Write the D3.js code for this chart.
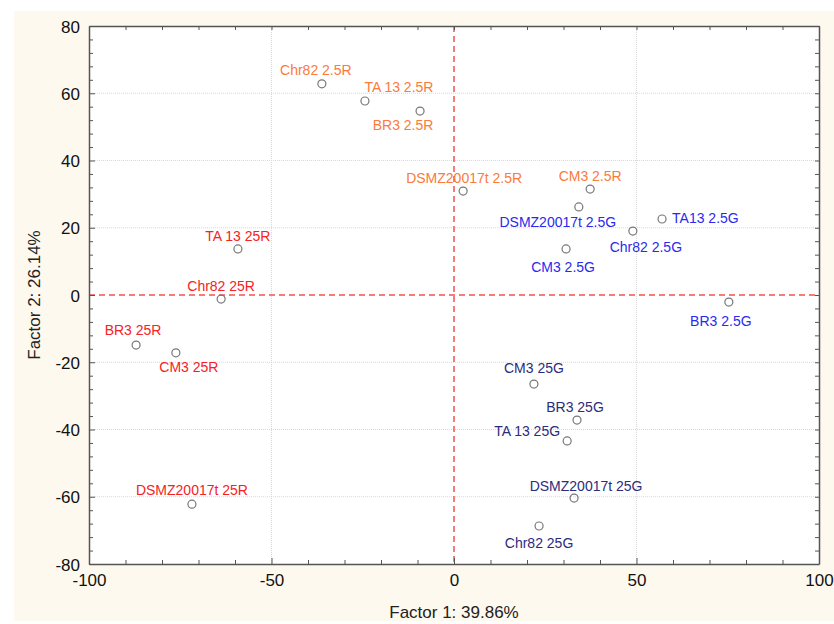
<!DOCTYPE html>
<html>
<head>
<meta charset="utf-8">
<script src="https://cdn.jsdelivr.net/npm/d3@7"></script>
<style>
body { margin: 0; background: #fff; }
svg { font-family: "Liberation Sans", Arial, sans-serif; }
</style>
</head>
<body>
<div id="chart"></div>
<script>
// sample labels, group and factor scores
const labels = [
  'Chr82 2.5R', 'TA 13 2.5R', 'BR3 2.5R', 'DSMZ20017t 2.5R', 'CM3 2.5R',
  'DSMZ20017t 2.5G', 'TA13 2.5G', 'Chr82 2.5G', 'CM3 2.5G', 'BR3 2.5G',
  'TA 13 25R', 'Chr82 25R', 'BR3 25R', 'CM3 25R', 'DSMZ20017t 25R',
  'CM3 25G', 'BR3 25G', 'TA 13 25G', 'DSMZ20017t 25G', 'Chr82 25G'
];
const groups = [
  '2.5R', '2.5R', '2.5R', '2.5R', '2.5R',
  '2.5G', '2.5G', '2.5G', '2.5G', '2.5G',
  '25R', '25R', '25R', '25R', '25R',
  '25G', '25G', '25G', '25G', '25G'
];
const factor1 = [-36.2, -24.4, -9.3, 2.5, 37.3, 34.2, 57.0, 49.0, 30.7, 75.3,
  -59.2, -63.8, -87.1, -76.2, -71.8, 21.9, 33.7, 31.0, 32.9, 23.3];
const factor2 = [62.8, 57.7, 54.7, 30.9, 31.5, 26.2, 22.6, 19.0, 13.7, -2.1,
  13.7, -1.2, -14.9, -17.2, -62.2, -26.5, -37.2, -43.4, -60.4, -68.7];

const xTicks = [-100, -50, 0, 50, 100];
const yTicks = [-80, -60, -40, -20, 0, 20, 40, 60, 80];

// label placement relative to point (pixels)
const labelOffset = [
  [-6, -14], [34, -14], [-17, 14], [1, -13], [0, -13],
  [-21, 15], [10, -1], [13, 16], [-3, 18], [-8, 19],
  [0, -13], [0, -13], [-3, -15], [13, 14], [0, -14],
  [0, -16], [-2, -13], [-40, -10], [12, -12], [0, 17]
];

const colors = {'2.5R': '#fb7a3c', '2.5G': '#2a2aee', '25R': '#f52222', '25G': '#2c2c7c'};

const width = 834, height = 624;
const margin = {top: 26, right: 14, bottom: 59, left: 89};

const svg = d3.select('#chart').append('svg')
  .attr('width', width)
  .attr('height', height);

svg.append('rect')
  .attr('x', 14).attr('y', 11)
  .attr('width', width - 14).attr('height', 610)
  .attr('fill', '#fef9ee');

const x = d3.scaleLinear().domain([-100, 100]).range([margin.left, width - margin.right - 1]);
const y = d3.scaleLinear().domain([-80, 80]).range([height - margin.bottom - 1, margin.top]);

svg.append('rect')
  .attr('x', x(-100)).attr('y', y(80))
  .attr('width', x(100) - x(-100)).attr('height', y(-80) - y(80))
  .attr('fill', '#fff');

// grid
svg.append('g').selectAll('line').data(xTicks.filter(d => d !== 0 && Math.abs(d) !== 100)).join('line')
  .attr('x1', d => x(d)).attr('x2', d => x(d))
  .attr('y1', y(80)).attr('y2', y(-80))
  .attr('stroke', '#d8d8d8').attr('stroke-dasharray', '1,1');
svg.append('g').selectAll('line').data(yTicks.filter(d => d !== 0 && Math.abs(d) !== 80)).join('line')
  .attr('x1', x(-100)).attr('x2', x(100))
  .attr('y1', d => y(d)).attr('y2', d => y(d))
  .attr('stroke', '#d8d8d8').attr('stroke-dasharray', '1,1');

// zero lines
svg.append('line')
  .attr('x1', x(0)).attr('x2', x(0)).attr('y1', y(80)).attr('y2', y(-80))
  .attr('stroke', '#f55050').attr('stroke-width', 1.5).attr('stroke-dasharray', '6,4');
svg.append('line')
  .attr('x1', x(-100)).attr('x2', x(100)).attr('y1', y(0)).attr('y2', y(0))
  .attr('stroke', '#f55050').attr('stroke-width', 1.5).attr('stroke-dasharray', '6,4');

// axes, ticks inward on all sides
const xMinor = d3.range(-100, 101, 10);
const yMinor = d3.range(-80, 81, 4);
function tickFmt(d) { return xTicks.includes(d) ? d : ''; }
function yFmt(d) { return yTicks.includes(d) ? d : ''; }

const xb = svg.append('g').attr('transform', `translate(0,${y(-80)})`)
  .call(d3.axisBottom(x).tickValues(xMinor).tickFormat(tickFmt).tickSizeInner(-4).tickSizeOuter(0).tickPadding(10));
xb.selectAll('.tick line').attr('y2', d => xTicks.includes(d) ? -6 : -4);
const xt = svg.append('g').attr('transform', `translate(0,${y(80)})`)
  .call(d3.axisTop(x).tickValues(xMinor).tickFormat('').tickSizeInner(-4).tickSizeOuter(0));
const yl = svg.append('g').attr('transform', `translate(${x(-100)},0)`)
  .call(d3.axisLeft(y).tickValues(yMinor).tickFormat(yFmt).tickSizeInner(-4).tickSizeOuter(0).tickPadding(9));
yl.selectAll('.tick line').attr('x2', d => yTicks.includes(d) ? 6 : 4);
const yr = svg.append('g').attr('transform', `translate(${x(100)},0)`)
  .call(d3.axisRight(y).tickValues(yMinor).tickFormat('').tickSizeInner(-4).tickSizeOuter(0));

[xb, xt, yl, yr].forEach(g => {
  g.select('.domain').attr('stroke', '#555').attr('stroke-width', 1.5);
  g.selectAll('.tick line').attr('stroke', '#555');
  g.selectAll('text').attr('font-size', 17).attr('fill', '#111')
    .attr('font-family', '"Liberation Sans", Arial, sans-serif');
});
yl.selectAll('text').attr('dy', '0.36em');

// axis titles
svg.append('text')
  .attr('x', x(0)).attr('y', 618)
  .attr('text-anchor', 'middle').attr('font-size', 17).attr('fill', '#222')
  .text('Factor 1: 39.86%');
svg.append('text')
  .attr('transform', `translate(40,${y(0)}) rotate(-90)`)
  .attr('text-anchor', 'middle').attr('font-size', 17).attr('fill', '#222')
  .text('Factor 2: 26.14%');

// points and labels
const pts = labels.map((l, i) => ({label: l, group: groups[i], f1: factor1[i], f2: factor2[i], off: labelOffset[i]}));

svg.append('g').selectAll('circle').data(pts).join('circle')
  .attr('cx', d => x(d.f1)).attr('cy', d => y(d.f2))
  .attr('r', 4).attr('fill', 'none').attr('stroke', '#777').attr('stroke-width', 1.2);

svg.append('g').selectAll('text').data(pts).join('text')
  .attr('x', d => x(d.f1) + d.off[0])
  .attr('y', d => y(d.f2) + d.off[1])
  .attr('dy', '0.35em')
  .attr('text-anchor', (d, i) => i === 6 ? 'start' : 'middle')
  .attr('font-size', 14)
  .attr('fill', d => colors[d.group])
  .text(d => d.label);
</script>
</body>
</html>
